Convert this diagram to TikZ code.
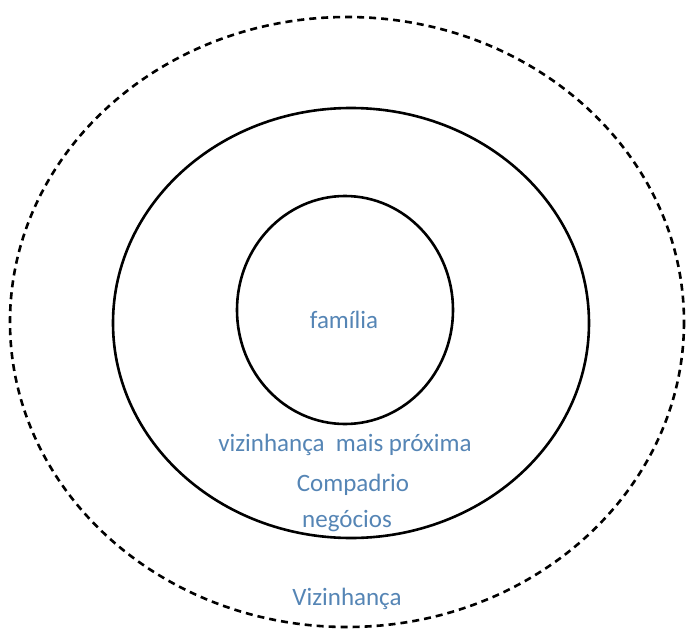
\documentclass[tikz,border=0pt]{standalone}
\usepackage{fontspec}
\setmainfont{Carlito}
\definecolor{lbl}{HTML}{5585B5}
\begin{document}
\begin{tikzpicture}[x=1pt,y=-1pt,
  ring/.style={line width=2.6pt},
  dashring/.style={line width=2.6pt, dash pattern=on 7pt off 5pt},
  lab/.style={text=lbl, font=\fontsize{25}{30}\selectfont, inner sep=0pt, anchor=base}]
\useasboundingbox (0,0) rectangle (686,637);
\draw[dashring] (347,322) ellipse [x radius=337, y radius=305];
\draw[ring] (351,323) ellipse [x radius=238, y radius=215];
\draw[ring] (345,310) ellipse [x radius=108, y radius=114];
\node[lab] (fam) at (344,328) {família};
\node[lab] (viz1) at (345,451) {vizinhança\ \ mais próxima};
\node[lab] (comp) at (353,491) {Compadrio};
\node[lab] (neg) at (347,527) {negócios};
\node[lab] (viz2) at (347,605) {Vizinhança};
\end{tikzpicture}
\end{document}
